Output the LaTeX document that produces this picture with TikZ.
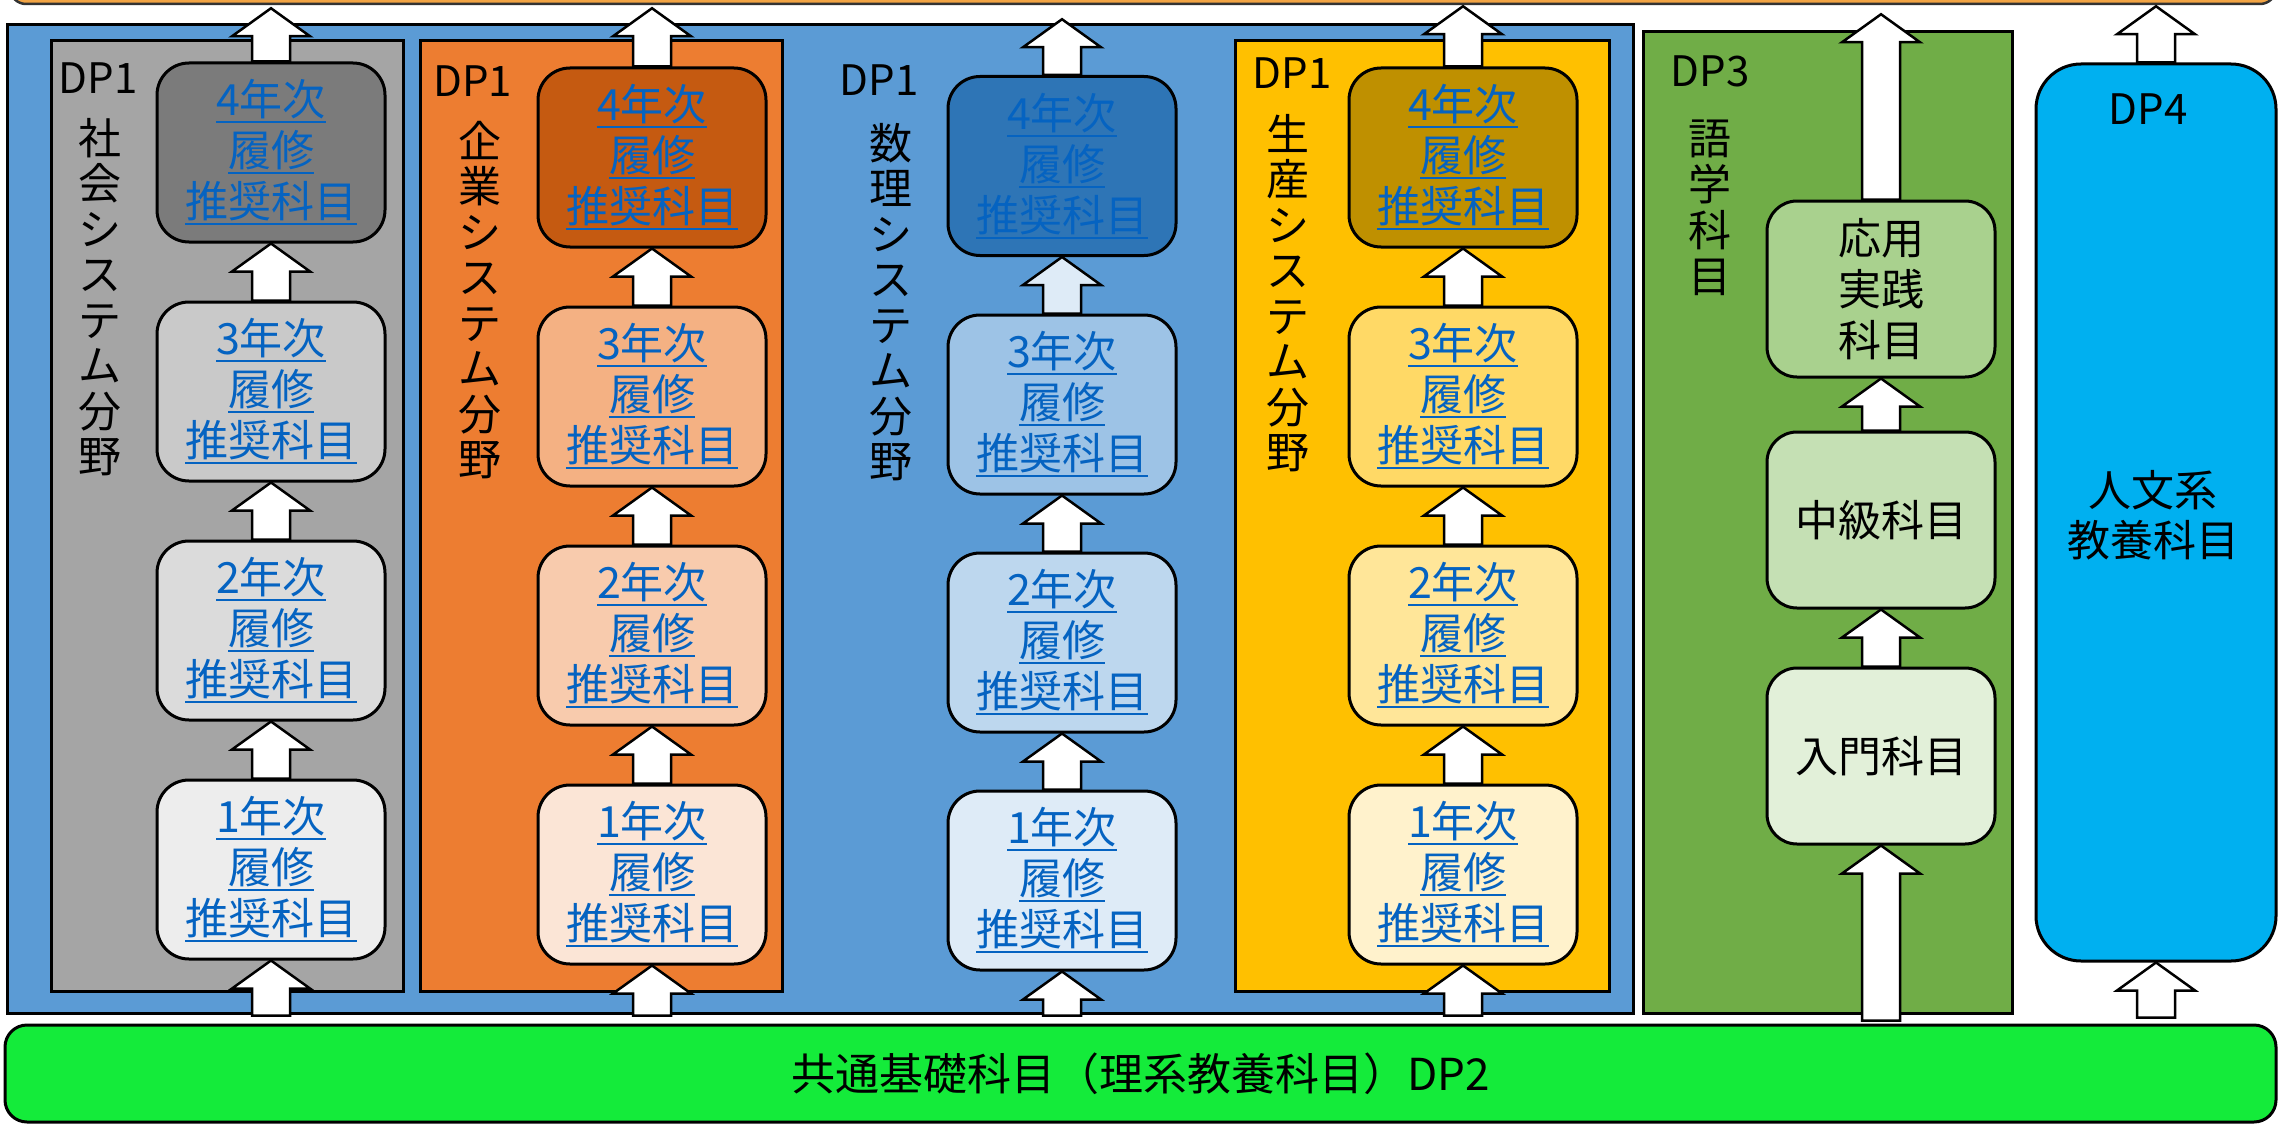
\documentclass[tikz,border=0pt]{standalone}
\usepackage{fontspec}
\setmainfont{Noto Sans CJK JP}
\usetikzlibrary{calc}
\definecolor{bluebg}{HTML}{5B9BD5}
\definecolor{grayo}{HTML}{A5A5A5}
\definecolor{gray4}{HTML}{7B7B7B}
\definecolor{gray3}{HTML}{C9C9C9}
\definecolor{gray2}{HTML}{DBDBDB}
\definecolor{gray1}{HTML}{EDEDED}
\definecolor{orao}{HTML}{ED7D31}
\definecolor{ora4}{HTML}{C55A11}
\definecolor{ora3}{HTML}{F4B183}
\definecolor{ora2}{HTML}{F8CBAD}
\definecolor{ora1}{HTML}{FBE5D6}
\definecolor{blu4}{HTML}{2E75B6}
\definecolor{blu3}{HTML}{9DC3E6}
\definecolor{blu2}{HTML}{BDD7EE}
\definecolor{blu1}{HTML}{DEEBF7}
\definecolor{yelo}{HTML}{FFC000}
\definecolor{yel4}{HTML}{BF9000}
\definecolor{yel3}{HTML}{FFD966}
\definecolor{yel2}{HTML}{FFE699}
\definecolor{yel1}{HTML}{FFF2CC}
\definecolor{greo}{HTML}{70AD47}
\definecolor{gre3}{HTML}{A9D18E}
\definecolor{gre2}{HTML}{C5E0B4}
\definecolor{gre1}{HTML}{E2F0D9}
\definecolor{cyanbox}{HTML}{00B0F0}
\definecolor{barg}{HTML}{14EB3A}
\definecolor{topbarc}{HTML}{F2A444}
\definecolor{linkc}{HTML}{0563C1}
\newsavebox\ulbox
\newcommand\myul[1]{\sbox\ulbox{#1}\rlap{\rule[-7.5pt]{\wd\ulbox}{2.2pt}}\usebox\ulbox}
\newcommand\yr[1]{\myul{#1年次}\\\myul{履修}\\\myul{推奨科目}}
\newcommand\blockarrow[3][white]{%
  \path[draw=black, line width=2.5pt, fill=#1] let \p1=#2, \p2=#3 in
    (\x2-19pt,\y1) -- (\x2-19pt,\y2-28pt) -- (\x2-39pt,\y2-28pt) -- (\x2,\y2)
    -- (\x2+39pt,\y2-28pt) -- (\x2+19pt,\y2-28pt) -- (\x2+19pt,\y1) -- cycle;}
\tikzset{
  base/.style={draw=black, line width=3pt, inner sep=0pt},
  col/.style={base, rectangle},
  yrbox/.style={base, rounded corners=32pt, minimum width=228pt, minimum height=179pt,
    align=center, text=linkc, font=\fontsize{43}{51}\selectfont},
  lbox/.style={base, rounded corners=30pt, minimum width=228pt, minimum height=176pt,
    align=center, font=\fontsize{43}{51}\selectfont},
  dplbl/.style={inner sep=0pt, font=\fontsize{42}{45}\selectfont},
  vlbl/.style={inner sep=0pt, align=center, font=\fontsize{43}{45.5}\selectfont},
}
\begin{document}
\begin{tikzpicture}[x=1pt,y=-1pt]
\useasboundingbox (0,0) rectangle (2279,1124);
\fill[white] (0,0) rectangle (2279,1124);
% top bar
\node[draw=black!80, line width=2.5pt, fill=topbarc, rounded corners=16pt,
  minimum width=2266pt, minimum height=60pt, inner sep=0pt] (top) at (1143,-26) {};
% backgrounds
\node[col, fill=bluebg, minimum width=1626pt, minimum height=988pt] (bg) at (820,519) {};
\node[col, fill=grayo, minimum width=352pt, minimum height=950pt] (cg) at (227,516) {};
\node[col, fill=orao, minimum width=362pt, minimum height=950pt] (co) at (601,516) {};
\node[col, fill=yelo, minimum width=374pt, minimum height=950pt] (cy) at (1422,516) {};
\node[col, fill=greo, minimum width=369pt, minimum height=981pt] (cl) at (1827.5,522.5) {};
\node[base, fill=cyanbox, rounded corners=45pt, minimum width=240pt, minimum height=897pt] (dp4) at (2156,512.5) {};
\node[base, fill=barg, rounded corners=22pt, minimum width=2271pt, minimum height=97pt,
  font=\fontsize{44}{50}\selectfont] (bar) at (1140.5,1073.5) {共通基礎科目（理系教養科目）DP2};
% labels
\node[dplbl] (dg) at (98,78.5) {DP1};
\node[vlbl] (vg) at (100,297) {社\\会\\シ\\ス\\テ\\ム\\分\\野};
\node[dplbl] (do) at (472.5,81.5) {DP1};
\node[vlbl] (vo) at (480,300) {企\\業\\シ\\ス\\テ\\ム\\分\\野};
\node[dplbl] (db) at (879,80) {DP1};
\node[vlbl] (vb) at (891,302) {数\\理\\シ\\ス\\テ\\ム\\分\\野};
\node[dplbl] (dy) at (1292,73) {DP1};
\node[vlbl] (vy) at (1288,293) {生\\産\\シ\\ス\\テ\\ム\\分\\野};
\node[dplbl] (dl) at (1710,71) {DP3};
\node[vlbl, font=\fontsize{43}{46}\selectfont] (vl) at (1710,207.5) {語\\学\\科\\目};
\node[dplbl] (d4) at (2148,109) {DP4};
\node[vlbl, font=\fontsize{43}{50}\selectfont] (t4) at (2153,515) {人文系\\教養科目};
% year boxes
\node[yrbox, fill=gray4] (g4) at (271,152.5) {\yr{4}};
\node[yrbox, fill=gray3] (g3) at (271,391.5) {\yr{3}};
\node[yrbox, fill=gray2] (g2) at (271,630.5) {\yr{2}};
\node[yrbox, fill=gray1] (g1) at (271,869.5) {\yr{1}};
\node[yrbox, fill=ora4] (o4) at (652,157.5) {\yr{4}};
\node[yrbox, fill=ora3] (o3) at (652,396.5) {\yr{3}};
\node[yrbox, fill=ora2] (o2) at (652,635.5) {\yr{2}};
\node[yrbox, fill=ora1] (o1) at (652,874.5) {\yr{1}};
\node[yrbox, fill=blu4] (b4) at (1062,166) {\yr{4}};
\node[yrbox, fill=blu3] (b3) at (1062,404.5) {\yr{3}};
\node[yrbox, fill=blu2] (b2) at (1062,642.5) {\yr{2}};
\node[yrbox, fill=blu1] (b1) at (1062,880.5) {\yr{1}};
\node[yrbox, fill=yel4] (y4) at (1463,157.5) {\yr{4}};
\node[yrbox, fill=yel3] (y3) at (1463,396.5) {\yr{3}};
\node[yrbox, fill=yel2] (y2) at (1463,635.5) {\yr{2}};
\node[yrbox, fill=yel1] (y1) at (1463,874.5) {\yr{1}};
% language boxes
\node[lbox, fill=gre3] (l3) at (1881,289) {応用\\実践\\科目};
\node[lbox, fill=gre2] (l2) at (1881,520) {中級科目};
\node[lbox, fill=gre1] (l1) at (1881,756) {入門科目};
% arrows
\foreach \c in {g, o, b, y}{
  \blockarrow{([yshift=8pt]bar.north -| \c1.south)}{(\c1.south)}
  \blockarrow{(\c1.north)}{(\c2.south)}
  \blockarrow{(\c2.north)}{(\c3.south)}
}
\blockarrow{(g3.north)}{(g4.south)}
\blockarrow{(o3.north)}{(o4.south)}
\blockarrow[blu1]{(b3.north)}{(b4.south)}
\blockarrow{(y3.north)}{(y4.south)}
\blockarrow{(g4.north)}{([yshift=-3pt]top.south -| g4.north)}
\blockarrow{(o4.north)}{([yshift=-3pt]top.south -| o4.north)}
\blockarrow{(b4.north)}{([yshift=-14pt]top.south -| b4.north)}
\blockarrow{(y4.north)}{([yshift=-1pt]top.south -| y4.north)}
\blockarrow{([yshift=3pt]bar.north -| l1.south)}{(l1.south)}
\blockarrow{(l1.north)}{(l2.south)}
\blockarrow{(l2.north)}{(l3.south)}
\blockarrow{(l3.north)}{([yshift=-9pt]top.south -| l3.north)}
\blockarrow{([yshift=6pt]bar.north -| dp4.south)}{(dp4.south)}
\blockarrow{(dp4.north)}{([yshift=-1pt]top.south -| dp4.north)}
\end{tikzpicture}
\end{document}
